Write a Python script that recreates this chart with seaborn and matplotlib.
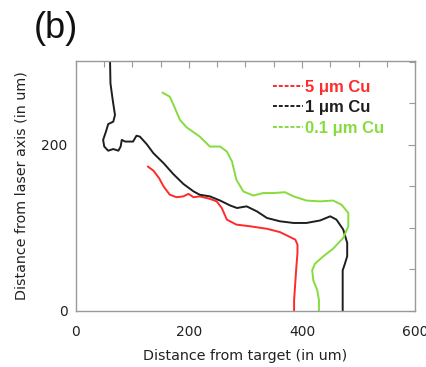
import numpy as np
import pandas as pd
import matplotlib
matplotlib.use("Agg")
import matplotlib.pyplot as plt
from matplotlib.lines import Line2D
from matplotlib.ticker import MultipleLocator
import seaborn as sns

# --- data ---
red_x = [127, 137, 147, 155, 166, 178, 190, 199, 208, 219, 237, 249, 258, 267, 284, 308, 338, 361, 379, 388, 392, 392, 390, 388, 386, 386]
red_y = [174, 169, 160, 150, 140, 137, 138, 141, 137, 138, 135, 132, 124, 110, 104, 102, 99, 95, 89, 86, 80, 70, 53, 33, 13, 0]

black_x = [60, 61, 65, 69, 66, 57, 53, 48, 50, 57, 66, 75, 79, 81, 87, 101, 107, 113, 125, 137, 155, 172, 190, 208, 219, 237, 255, 273, 285, 302, 320, 338, 361, 385, 408, 432, 450, 461, 473, 480, 480, 476, 472, 472, 472]
black_y = [310, 274, 254, 236, 228, 225, 216, 206, 198, 193, 195, 193, 198, 206, 204, 204, 211, 210, 201, 190, 178, 165, 153, 144, 140, 138, 133, 127, 124, 126, 120, 112, 108, 106, 106, 109, 114, 110, 98, 82, 66, 57, 49, 25, 0]

green_x = [153, 166, 174, 184, 196, 219, 237, 255, 267, 276, 284, 296, 314, 331, 349, 370, 385, 408, 432, 455, 470, 482, 482, 473, 455, 438, 423, 418, 420, 427, 430, 430]
green_y = [263, 258, 246, 230, 221, 210, 198, 198, 192, 180, 158, 144, 139, 142, 142, 143, 138, 133, 132, 133, 128, 118, 102, 88, 75, 66, 57, 49, 37, 25, 13, 0]

series_labels = ["5 \u03bcm Cu", "1 \u03bcm Cu", "0.1 \u03bcm Cu"]
series_colors = ["#ff2a2a", "#1e1e1e", "#86dc3c"]
x_ticks = [0, 200, 400, 600]
y_ticks = [0, 200]

rows = []
for lab, xs, ys in zip(series_labels, [red_x, black_x, green_x], [red_y, black_y, green_y]):
    for i, (xv, yv) in enumerate(zip(xs, ys)):
        rows.append({"series": lab, "x": xv, "y": yv, "order": i})
df = pd.DataFrame(rows)

sns.set_style("white")
plt.rcParams["font.family"] = ["DejaVu Sans"]

fig = plt.figure(figsize=(4.27, 3.67), dpi=100)
ax = fig.add_axes([76 / 427, 1 - 311 / 367, (415 - 76) / 427, (311 - 61) / 367])

palette = dict(zip(series_labels, series_colors))
sns.lineplot(data=df, x="x", y="y", hue="series", palette=palette, sort=False,
             estimator=None, linewidth=1.4, ax=ax, legend=False)

ax.set_xlim(0, 600)
ax.set_ylim(0, 301)
ax.set_xticks(x_ticks)
ax.set_yticks(y_ticks)
ax.xaxis.set_minor_locator(MultipleLocator(50))
ax.yaxis.set_minor_locator(MultipleLocator(50))
ax.tick_params(which="both", direction="in", top=True, right=True, color="#999999",
               labelsize=10, labelcolor="#222222")
ax.tick_params(which="major", length=5, width=0.8)
ax.tick_params(axis="x", which="major", pad=10)
ax.tick_params(axis="y", which="major", pad=6)
ax.tick_params(which="minor", length=4, width=0.8)
for s in ax.spines.values():
    s.set_color("#999999")
    s.set_linewidth(1.0)

ax.set_xlabel("Distance from target (in um)", fontsize=10.3, color="#222222", labelpad=7)
ax.set_ylabel("Distance from laser axis (in um)", fontsize=10.3, color="#222222", labelpad=9)

handles = [Line2D([0], [0], color=c, linestyle=(0, (2, 1)), linewidth=1.4) for c in series_colors]
leg = ax.legend(handles, series_labels, loc="upper left", bbox_to_anchor=(0.581, 0.925),
                frameon=False, handlelength=1.8, handletextpad=0.15, labelspacing=0.33,
                borderpad=0, borderaxespad=0,
                prop={"weight": "bold", "size": 12, "family": "Liberation Sans"})
for t, c in zip(leg.get_texts(), series_colors):
    t.set_color(c)

fig.text(34 / 427, 1 - 29 / 367, "(b)", fontsize=26, va="center", ha="left",
         family="Liberation Sans", color="#111111")

fig.savefig("out.png", dpi=100)
